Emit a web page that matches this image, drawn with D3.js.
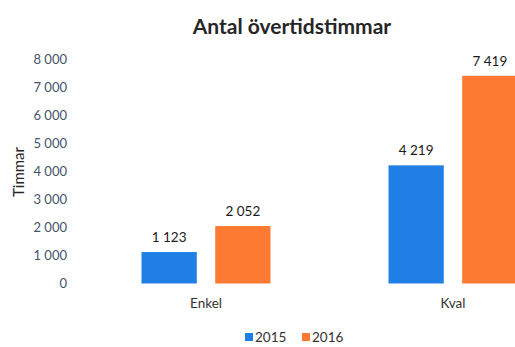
<!DOCTYPE html>
<html>
<head>
<meta charset="utf-8">
<script src="https://cdn.jsdelivr.net/npm/d3@7"></script>
<style>
  html, body { margin: 0; padding: 0; background: #fff; }
  svg { display: block; }
</style>
</head>
<body>
<svg id="chart" width="515" height="347"></svg>
<script>
const categories = ["Enkel", "Kval"];
const seriesNames = ["2015", "2016"];
const values2015 = [1123, 4219];
const values2016 = [2052, 7419];
const yTicks = [0, 1000, 2000, 3000, 4000, 5000, 6000, 7000, 8000];
const colors = ["#1f7fe5", "#fd7a33"];

const svg = d3.select("#chart");
const font = "Lato, 'Open Sans', sans-serif";

const fmt = v => d3.format(",")(v).replace(/,/g, " ");

const y = d3.scaleLinear().domain([0, 8000]).range([283.5, 59.5]);
const x = d3.scaleBand().domain(categories).range([82.5, 576.5]);
const xs = d3.scaleBand().domain(seriesNames).range([59, 188]).paddingInner(0.25);

const data = categories.map((c, i) => ({
  cat: c,
  vals: [
    { s: seriesNames[0], v: values2015[i] },
    { s: seriesNames[1], v: values2016[i] }
  ]
}));

// Title
svg.append("text")
  .attr("x", 292).attr("y", 34)
  .attr("text-anchor", "middle")
  .style("font-family", font).style("font-weight", "700")
  .style("font-size", "21px").attr("fill", "#262626")
  .text("Antal övertidstimmar");

// Y axis (labels only)
const yAxis = d3.axisLeft(y).tickValues(yTicks).tickFormat(fmt).tickSize(0).tickPadding(0);
const gy = svg.append("g").attr("transform", "translate(67,0)").call(yAxis);
gy.select(".domain").remove();
gy.selectAll("text")
  .style("font-family", font).style("font-size", "13px")
  .attr("fill", "#44546a");

// Y axis title
svg.append("text")
  .attr("transform", "translate(24,172) rotate(-90)")
  .attr("text-anchor", "middle")
  .style("font-family", font).style("font-size", "15px")
  .attr("fill", "#262626")
  .text("Timmar");

// Bars
const groups = svg.append("g").selectAll("g").data(data).join("g")
  .attr("transform", d => `translate(${x(d.cat)},0)`);

groups.selectAll("rect").data(d => d.vals).join("rect")
  .attr("x", d => xs(d.s))
  .attr("width", xs.bandwidth())
  .attr("y", d => y(d.v))
  .attr("height", d => y(0) - y(d.v))
  .attr("fill", (d, i) => colors[i]);

groups.selectAll("text.val").data(d => d.vals).join("text")
  .attr("class", "val")
  .attr("x", d => xs(d.s) + xs.bandwidth() / 2)
  .attr("y", d => y(d.v) - 10)
  .attr("text-anchor", "middle")
  .style("font-family", font).style("font-size", "13.5px")
  .attr("fill", "#1a1a1a")
  .text(d => fmt(d.v));

// Category labels
const xAxis = d3.axisBottom(x).tickSize(0).tickPadding(0);
const gx = svg.append("g").attr("transform", "translate(0,298)").call(xAxis);
gx.select(".domain").remove();
gx.selectAll("text")
  .style("font-family", font).style("font-size", "13.5px")
  .attr("fill", "#333");

// Legend
const legend = svg.append("g").attr("transform", "translate(245,337)");
const legendItems = legend.selectAll("g").data(seriesNames).join("g")
  .attr("transform", (d, i) => `translate(${i * 57},0)`);
legendItems.append("rect")
  .attr("x", 0).attr("y", -4).attr("width", 8).attr("height", 8)
  .attr("fill", (d, i) => colors[i]);
legendItems.append("text")
  .attr("x", 10).attr("y", 0).attr("dy", "0.35em")
  .style("font-family", font).style("font-size", "13.5px")
  .attr("fill", "#333")
  .text(d => d);
</script>
</body>
</html>
